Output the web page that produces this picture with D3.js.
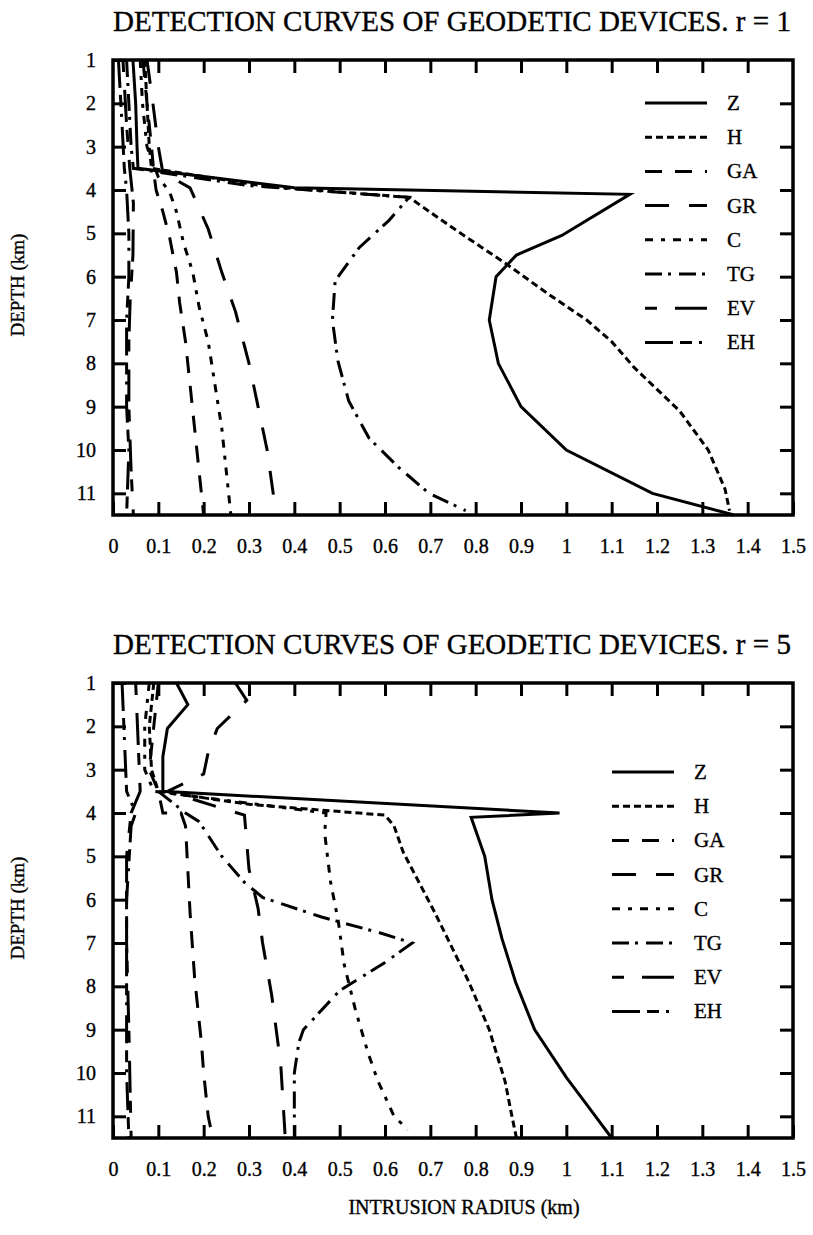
<!DOCTYPE html>
<html>
<head>
<meta charset="utf-8">
<style>
  body { margin: 0; background: #fff; }
  text { font-family: "Liberation Serif", "Times New Roman", serif; fill: #000; stroke: #000; stroke-width: 0.35px; }
</style>
</head>
<body>
<svg id="chart" width="813" height="1235"></svg>
<script src="https://cdn.jsdelivr.net/npm/d3@7"></script>
<script>
// tick labels
var xTicks = [0, 0.1, 0.2, 0.3, 0.4, 0.5, 0.6, 0.7, 0.8, 0.9, 1, 1.1, 1.2, 1.3, 1.4, 1.5];
var yTicks = [1, 2, 3, 4, 5, 6, 7, 8, 9, 10, 11];
var seriesNames = ["Z", "H", "GA", "GR", "C", "TG", "EV", "EH"];

// r = 1, points are [radius, depth]
var z1  = [[0.044,1],[0.05,2],[0.053,3],[0.055,3.5],[0.4,3.95],[1.14,4.1],[0.99,5.05],[0.89,5.5],[0.845,6],[0.83,7],[0.85,8],[0.9,9],[1.0,10],[1.19,11],[1.37,11.5]];
var h1  = [[0.07,1],[0.075,2],[0.08,3],[0.085,3.5],[0.34,3.92],[0.653,4.17],[0.76,4.95],[0.867,5.7],[0.96,6.4],[1.045,7.0],[1.1,7.5],[1.15,8.1],[1.25,9.1],[1.313,10],[1.35,10.9],[1.36,11.4]];
var ga1 = [[0.066,1],[0.075,2],[0.085,3],[0.09,3.6],[0.095,4.0],[0.11,4.5],[0.125,5.1],[0.14,5.9],[0.147,6.6],[0.16,7.5],[0.17,8.5],[0.18,9.5],[0.19,10.5],[0.2,11.5]];
var gr1 = [[0.075,1],[0.088,2],[0.1,3],[0.11,3.6],[0.17,3.95],[0.21,4.9],[0.24,5.9],[0.27,6.8],[0.3,8],[0.32,9],[0.34,10],[0.36,11.5]];
var c1  = [[0.06,1],[0.065,2],[0.075,3],[0.1,3.7],[0.125,4.05],[0.14,4.5],[0.155,5.2],[0.176,5.9],[0.19,6.7],[0.21,7.5],[0.225,8.5],[0.24,9.5],[0.25,10.5],[0.26,11.5]];
var tg1 = [[0.03,1],[0.035,2],[0.04,3],[0.045,3.5],[0.3,3.9],[0.653,4.17],[0.609,4.7],[0.543,5.33],[0.49,6.1],[0.484,7],[0.496,7.94],[0.52,8.87],[0.565,9.73],[0.63,10.4],[0.697,11],[0.778,11.4]];
var ev1 = [[0.022,1],[0.03,2.5],[0.037,3.5],[0.045,4.3],[0.044,5.5],[0.038,6.5],[0.035,7.5],[0.035,9],[0.04,10.5],[0.045,11.5]];
var eh1 = [[0.012,1],[0.02,2.5],[0.025,3.5],[0.03,4],[0.035,5],[0.035,6],[0.03,7],[0.03,8],[0.03,9],[0.035,10],[0.03,11.5]];

// r = 5
var z5  = [[0.14,1],[0.165,1.5],[0.12,2.05],[0.11,2.7],[0.11,3.5],[0.985,4.0],[0.79,4.1],[0.82,5],[0.836,6],[0.858,6.9],[0.888,7.9],[0.93,9],[1.0,10.1],[1.05,10.8],[1.1,11.5]];
var h5  = [[0.09,1],[0.08,2],[0.085,3],[0.1,3.5],[0.3,3.8],[0.6,4.05],[0.62,4.3],[0.64,4.9],[0.68,5.7],[0.71,6.3],[0.74,6.94],[0.785,7.9],[0.83,9],[0.865,10.2],[0.88,11],[0.89,11.5]];
var ga5 = [[0.1,1],[0.09,2],[0.08,3],[0.1,3.5],[0.11,4.0],[0.15,4.0],[0.16,4.3],[0.17,6.3],[0.18,7.8],[0.195,9.3],[0.2,10],[0.21,11],[0.22,11.5]];
var gr5 = [[0.27,1],[0.295,1.4],[0.23,2.05],[0.21,2.6],[0.2,3.1],[0.12,3.5],[0.29,4.05],[0.3,5.3],[0.32,6.2],[0.33,7],[0.35,8.2],[0.37,9.8],[0.38,11.5]];
var c5  = [[0.08,1],[0.07,2],[0.07,3],[0.09,3.5],[0.47,4.0],[0.467,4.47],[0.48,5.6],[0.497,6.5],[0.51,7.5],[0.535,8.55],[0.563,9.55],[0.585,10.2],[0.62,11],[0.65,11.3]];
var tg5 = [[0.1,3.5],[0.16,4.0],[0.19,4.2],[0.24,5.0],[0.29,5.6],[0.33,5.95],[0.46,6.4],[0.59,6.77],[0.66,7.0],[0.6,7.45],[0.5,8.1],[0.42,9.0],[0.41,9.3],[0.4,10],[0.4,11.5]];
var ev5 = [[0.05,1],[0.06,3.5],[0.04,4],[0.03,5],[0.03,7],[0.035,9],[0.04,11.5]];
var eh5 = [[0.02,1],[0.03,3.5],[0.05,4.0],[0.04,4.3],[0.03,6],[0.03,8],[0.03,10],[0.035,11.5]];

var dashes = {
  Z: null, H: "7,4", GA: "17,13", GR: "24,20",
  C: "8,8,4,8", TG: "17,6,3,8", EV: "12,18,32,8", EH: "28,7,12,7,3,10"
};

var svg = d3.select("#chart");

function drawChart(top, title, series, legendX, legendY) {
  var left = 113, right = 793, bottom = top + 455;
  var x = d3.scaleLinear().domain([0, 1.5]).range([left, right]);
  var y = d3.scaleLinear().domain([1, 11.5]).range([top, bottom]);
  var g = svg.append("g");

  g.append("text")
    .attr("x", 452).attr("y", top - 29)
    .attr("text-anchor", "middle")
    .attr("font-size", "29px")
    .text(title);

  // inward ticks on all four sides
  var inner = xTicks.slice(1, -1);
  g.append("g").attr("transform", "translate(0," + bottom + ")")
    .call(d3.axisBottom(x).tickValues(xTicks).tickSize(-13).tickPadding(24).tickFormat(function(d, i) { return xTicks[i]; }));
  g.append("g").attr("transform", "translate(0," + top + ")")
    .call(d3.axisTop(x).tickValues(inner).tickSize(-13).tickFormat(""));
  g.append("g").attr("transform", "translate(" + left + ",0)")
    .call(d3.axisLeft(y).tickValues(yTicks).tickSize(-13).tickPadding(17));
  g.append("g").attr("transform", "translate(" + right + ",0)")
    .call(d3.axisRight(y).tickValues(yTicks.slice(1)).tickSize(-13).tickFormat(""));
  g.selectAll(".domain").remove();
  g.selectAll(".tick line").attr("stroke", "#000").attr("stroke-width", 3);
  g.selectAll(".tick text").attr("font-size", "20px").attr("fill", "#000")
    .attr("font-family", "Liberation Serif, serif");

  g.append("rect")
    .attr("x", left).attr("y", top)
    .attr("width", right - left).attr("height", bottom - top)
    .attr("fill", "none").attr("stroke", "#000").attr("stroke-width", 3.5);

  var line = d3.line().x(function(d) { return x(d[0]); }).y(function(d) { return y(d[1]); });
  series.forEach(function(s, i) {
    g.append("path")
      .attr("d", line(s))
      .attr("fill", "none")
      .attr("stroke", "#000")
      .attr("stroke-width", 3)
      .attr("stroke-dasharray", dashes[seriesNames[i]]);
  });

  // legend
  seriesNames.forEach(function(n, i) {
    var ly = legendY + i * 34.2;
    g.append("line")
      .attr("x1", legendX).attr("x2", legendX + 62)
      .attr("y1", ly).attr("y2", ly)
      .attr("stroke", "#000").attr("stroke-width", 3)
      .attr("stroke-dasharray", dashes[n]);
    g.append("text")
      .attr("x", legendX + 82).attr("y", ly + 7)
      .attr("font-size", "21px")
      .text(n);
  });

  g.append("text")
    .attr("transform", "translate(24," + (top + 225) + ") rotate(-90)")
    .attr("text-anchor", "middle")
    .attr("font-size", "19px")
    .text("DEPTH  (km)");
  return bottom;
}

drawChart(60, "DETECTION CURVES OF GEODETIC DEVICES. r = 1",
  [z1, h1, ga1, gr1, c1, tg1, ev1, eh1], 645, 103);
var b = drawChart(683, "DETECTION CURVES OF GEODETIC DEVICES. r = 5",
  [z5, h5, ga5, gr5, c5, tg5, ev5, eh5], 612, 772);

svg.append("text")
  .attr("x", 464).attr("y", b + 76)
  .attr("text-anchor", "middle")
  .attr("font-size", "20px")
  .text("INTRUSION RADIUS  (km)");
</script>
</body>
</html>
